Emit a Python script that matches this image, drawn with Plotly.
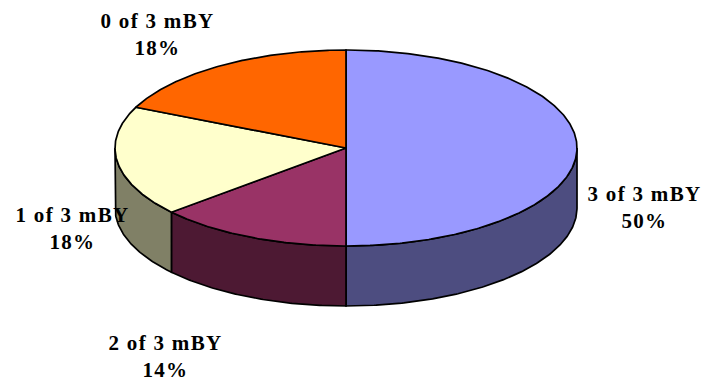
import math
import plotly.graph_objects as go

categories = ["3 of 3 mBY", "2 of 3 mBY", "1 of 3 mBY", "0 of 3 mBY"]
values = [11, 3, 4, 4]
top_colors = ["#9999FF", "#993366", "#FFFFCC", "#FF6600"]
side_colors = ["#4D4D80", "#4D1933", "#808066", "#803300"]
label_x = [644, 165, 72, 157]
label_y = [207, 356, 228, 34]

CX, CY, RX, RY, DEPTH = 346, 148, 231, 98, 60
W, H = 703, 384


def pt(deg, dy=0):
    r = math.radians(deg)
    return CX + RX * math.sin(r), CY - RY * math.cos(r) + dy


def arc(a, b, dy=0):
    n = max(2, int(abs(b - a)) * 2)
    return [pt(a + (b - a) * i / n, dy) for i in range(n + 1)]


fig = go.Figure()


def poly(points, color):
    xs = [p[0] for p in points] + [points[0][0]]
    ys = [p[1] for p in points] + [points[0][1]]
    fig.add_trace(go.Scatter(x=xs, y=ys, mode="lines", fill="toself", fillcolor=color,
                             line=dict(color="black", width=1.7), hoverinfo="skip",
                             showlegend=False))


total = sum(values)
angles = [0]
for v in values:
    angles.append(angles[-1] + 360 * v / total)

# side walls (only the front half of the rim, 90..270 degrees, is visible)
for i in range(len(values)):
    a, b = max(angles[i], 90), min(angles[i + 1], 270)
    if a < b:
        poly(arc(a, b) + arc(b, a, DEPTH), side_colors[i])

# top faces
for i in range(len(values)):
    poly([(CX, CY)] + arc(angles[i], angles[i + 1]), top_colors[i])

for c, v, x, y in zip(categories, values, label_x, label_y):
    fig.add_annotation(x=x, y=y, text=f"{c}<br>{round(100 * v / total)}%", showarrow=False,
                       align="center",
                       font=dict(family="Liberation Serif", size=21, color="black", weight="bold"))

fig.update_layout(width=W, height=H, margin=dict(l=0, r=0, t=0, b=0),
                  paper_bgcolor="white", plot_bgcolor="white", showlegend=False,
                  xaxis=dict(range=[0, W], visible=False, fixedrange=True),
                  yaxis=dict(range=[H, 0], visible=False, fixedrange=True))
post = ("document.body.style.margin='0';document.body.style.overflow='hidden';"
        "document.querySelectorAll('.annotation-text').forEach(function(t){"
        "t.style.letterSpacing='1.3px';});")
fig.write_html("out.html", config={"displayModeBar": False}, post_script=post)
